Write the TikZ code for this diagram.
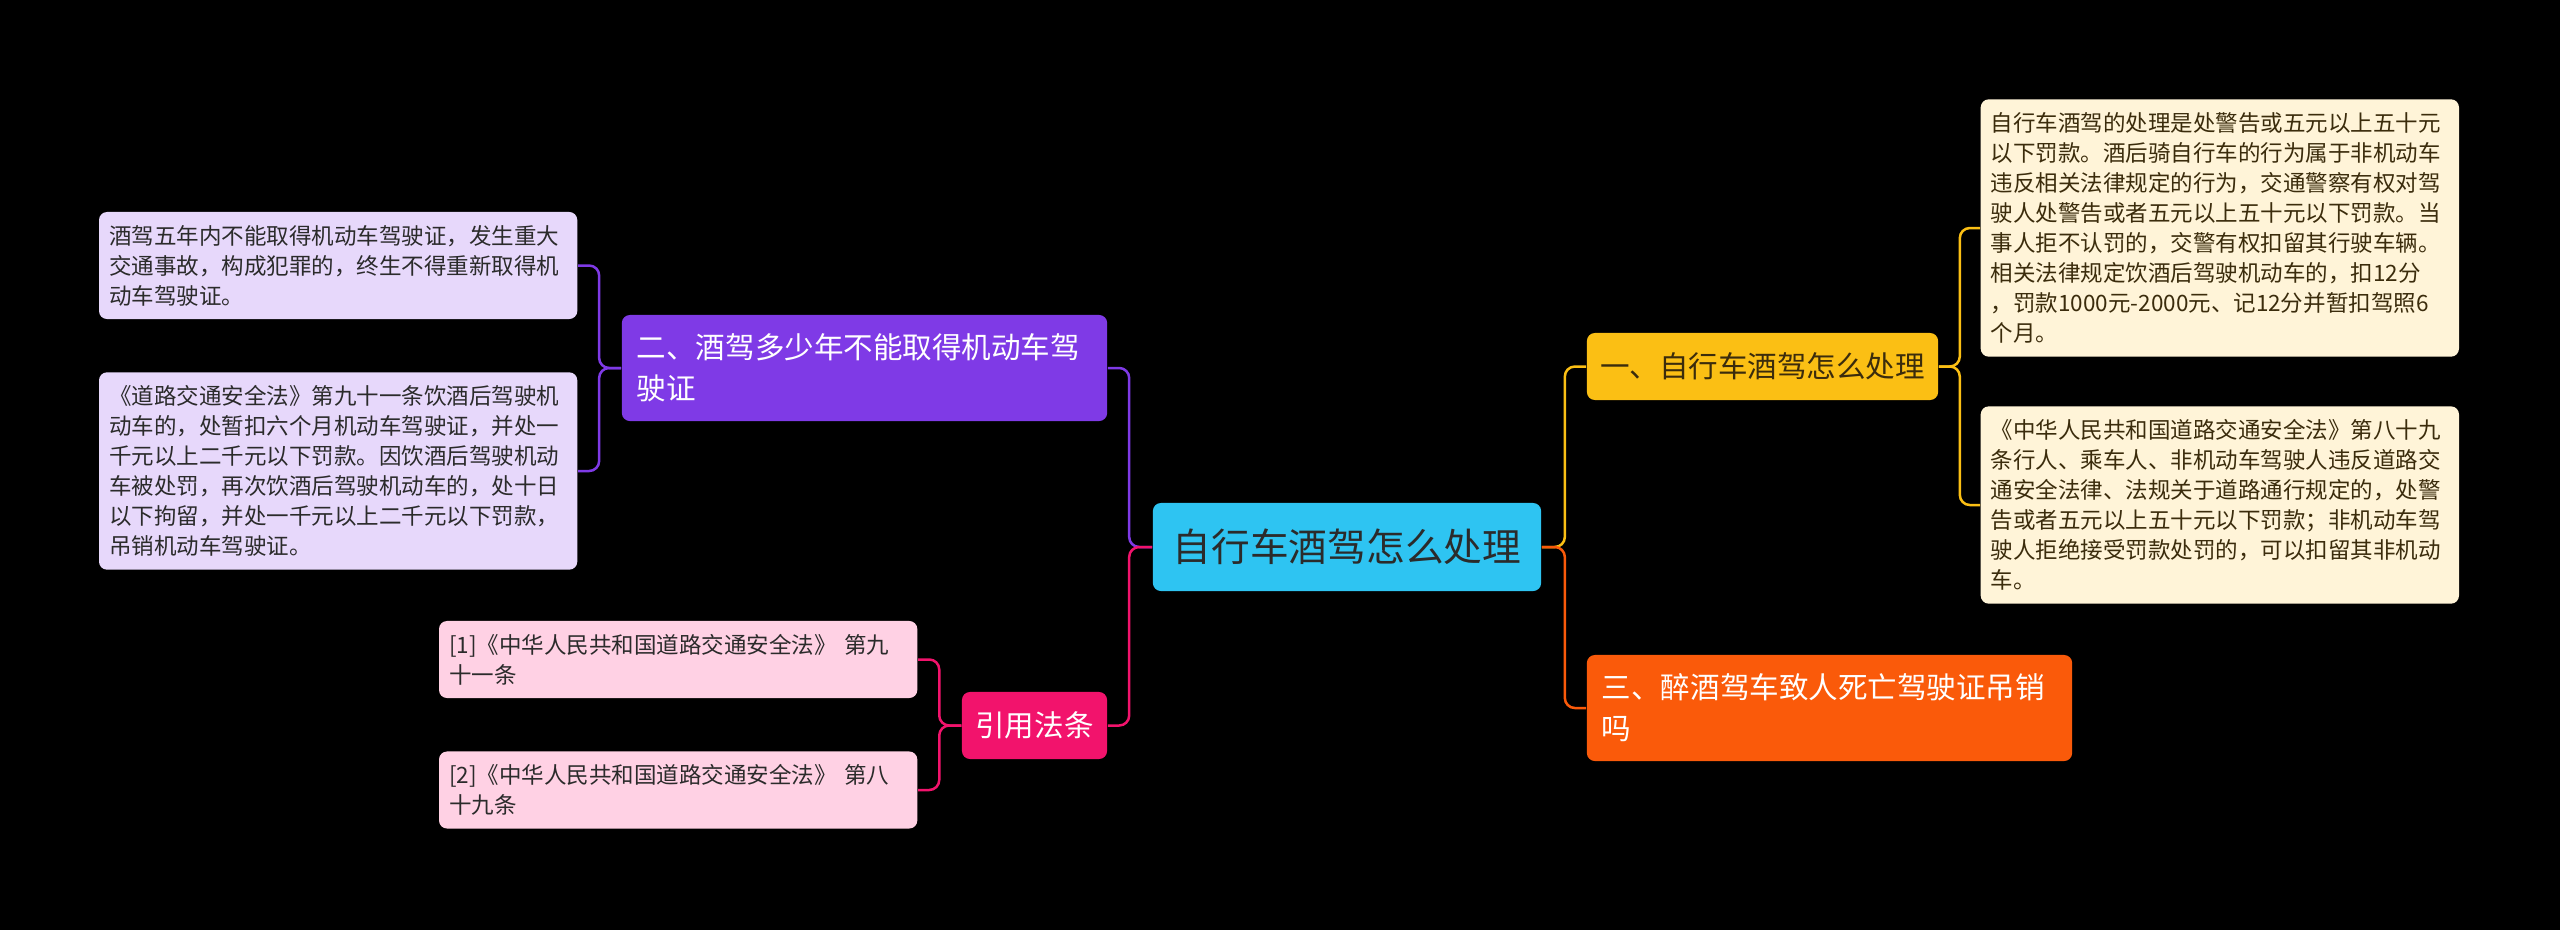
\documentclass[tikz,border=0pt]{standalone}
\usepackage{fontspec}
\setmainfont{Noto Sans CJK SC}

\definecolor{rootblue}{HTML}{2EC4F2}
\definecolor{ylw}{HTML}{FBBF14}
\definecolor{org}{HTML}{FA5A0A}
\definecolor{prp}{HTML}{7F3AE6}
\definecolor{pnk}{HTML}{F2136C}
\definecolor{cream}{HTML}{FFF4D8}
\definecolor{lilac}{HTML}{E7D8FB}
\definecolor{rose}{HTML}{FFD1E4}
\definecolor{ink}{HTML}{2B2B2B}
\definecolor{brown}{HTML}{3B2C0C}

\begin{document}
\begin{tikzpicture}[x=0.01cm, y=-0.01cm,
    box/.style={rounded corners=0.08cm, inner sep=0pt},
    rootbox/.style={box, fill=rootblue, text=ink, minimum width=3.88cm, minimum height=0.88cm, font=\fontsize{11pt}{13pt}\selectfont},
    topic/.style={box, minimum height=0.67cm, font=\fontsize{8.4pt}{11.6pt}\selectfont},
    longtopic/.style={topic, minimum height=1.06cm, text width=4.55cm, inner xsep=0.15cm, align=left},
    leaf/.style={box, text width=4.58cm, inner xsep=0.1cm, inner ysep=0.13cm, align=left, font=\fontsize{6.4pt}{8.55pt}\selectfont},
    wire/.style={line width=0.025cm, rounded corners=0.1cm}]

    \fill[black] (0,0) rectangle (2560,930);
    \useasboundingbox (0,0) rectangle (2560,930);

    \node[rootbox] (root) at (1347,547) {自行车酒驾怎么处理};

    \node[topic, fill=ylw, text=brown, minimum width=3.51cm] (drunk) at (1762.5,366.5) {一、自行车酒驾怎么处理};
    \node[longtopic, fill=org, text=white] (death) at (1829.5,708) {三、醉酒驾车致人死亡驾驶证吊销\\吗};
    \node[longtopic, fill=prp, text=white] (years) at (864.5,368) {二、酒驾多少年不能取得机动车驾\\驶证};
    \node[topic, fill=pnk, text=white, minimum width=1.45cm] (law) at (1034.5,725.5) {引用法条};

    \node[leaf, fill=cream, text=brown, anchor=west] (drunk-a) at (1980,228) {自行车酒驾的处理是处警告或五元以上五十元\\
        以下罚款。酒后骑自行车的行为属于非机动车\\
        违反相关法律规定的行为，交通警察有权对驾\\
        驶人处警告或者五元以上五十元以下罚款。当\\
        事人拒不认罚的，交警有权扣留其行驶车辆。\\
        相关法律规定饮酒后驾驶机动车的，扣12分\\
        ，罚款1000元-2000元、记12分并暂扣驾照6\\
        个月。};
    \node[leaf, fill=cream, text=brown, anchor=west] (drunk-b) at (1980,505) {《中华人民共和国道路交通安全法》第八十九\\
        条行人、乘车人、非机动车驾驶人违反道路交\\
        通安全法律、法规关于道路通行规定的，处警\\
        告或者五元以上五十元以下罚款；非机动车驾\\
        驶人拒绝接受罚款处罚的，可以扣留其非机动\\
        车。};

    \node[leaf, fill=lilac, text=ink, anchor=east] (years-a) at (578,265.5) {酒驾五年内不能取得机动车驾驶证，发生重大\\
        交通事故，构成犯罪的，终生不得重新取得机\\
        动车驾驶证。};
    \node[leaf, fill=lilac, text=ink, anchor=east] (years-b) at (578,471) {《道路交通安全法》第九十一条饮酒后驾驶机\\
        动车的，处暂扣六个月机动车驾驶证，并处一\\
        千元以上二千元以下罚款。因饮酒后驾驶机动\\
        车被处罚，再次饮酒后驾驶机动车的，处十日\\
        以下拘留，并处一千元以上二千元以下罚款，\\
        吊销机动车驾驶证。};

    \node[leaf, fill=rose, text=ink, anchor=east] (law-a) at (918,659.5) {[1]《中华人民共和国道路交通安全法》 第九\\
        十一条};
    \node[leaf, fill=rose, text=ink, anchor=east] (law-b) at (918,790) {[2]《中华人民共和国道路交通安全法》 第八\\
        十九条};

    \draw[wire, ylw] (root.east) -- ++(23,0) |- (drunk.west);
    \draw[wire, org] (root.east) -- ++(23,0) |- (death.west);
    \draw[wire, prp] (root.west) -- ++(-23,0) |- (years.east);
    \draw[wire, pnk] (root.west) -- ++(-23,0) |- (law.east);

    \draw[wire, ylw] (drunk.east) -- ++(21,0) |- (drunk-a.west);
    \draw[wire, ylw] (drunk.east) -- ++(21,0) |- (drunk-b.west);
    \draw[wire, prp] (years.west) -- ++(-22,0) |- (years-a.east);
    \draw[wire, prp] (years.west) -- ++(-22,0) |- (years-b.east);
    \draw[wire, pnk] (law.west) -- ++(-22,0) |- (law-a.east);
    \draw[wire, pnk] (law.west) -- ++(-22,0) |- (law-b.east);

\end{tikzpicture}
\end{document}
